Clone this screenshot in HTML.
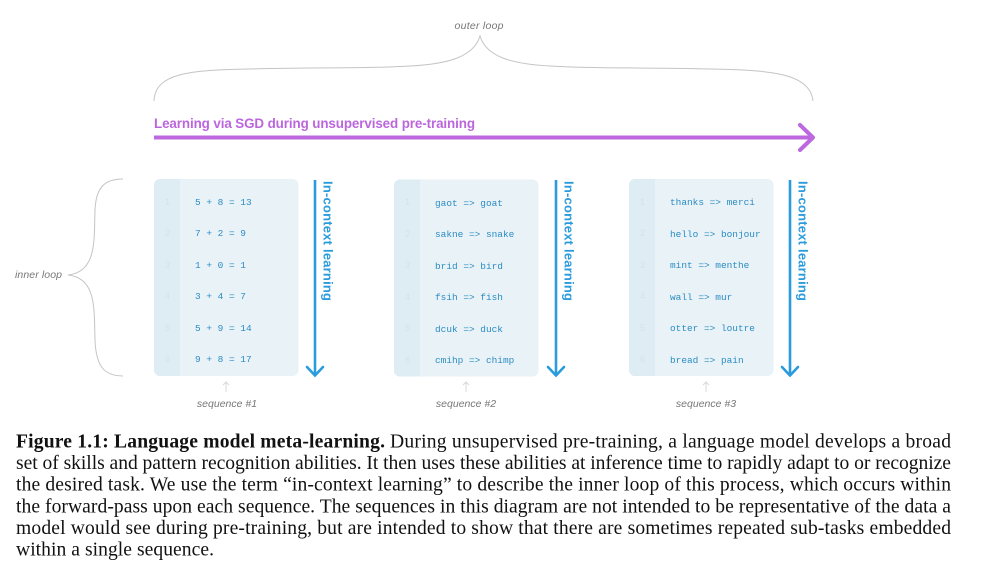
<!DOCTYPE html>
<html><head><meta charset="utf-8"><style>
html,body{margin:0;padding:0;background:#fff}
body{width:982px;height:574px;position:relative;overflow:hidden}
svg{position:absolute;left:0;top:0}
text{font-family:"Liberation Sans",sans-serif}
.m text{font-family:"Liberation Mono",monospace;font-size:9.45px;fill:#2b8cc4}
.n text{font-size:9px;fill:#d5e2e9}
text.i{font-style:italic;font-size:10.5px;fill:#777}
text.v{font-weight:bold;font-size:13px;fill:#2a9bdc}
text.c{font-family:"Liberation Serif",serif;font-size:19.6px;fill:#111}
</style></head><body>
<svg width="982" height="574" viewBox="0 0 982 574">
<text class="i" x="479" y="29" text-anchor="middle" textLength="49">outer loop</text>
<path d="M154 101C155 73 190 70 250 69C330 67 360 69 410 66C450 64 474 56 480 36C486 56 510 64 550 66C600 69 630 67 710 69C770 70 810 73 813 101" fill="none" stroke="#c4c4c4" stroke-width="1"/>
<text x="154" y="128" font-weight="bold" font-size="13.4" fill="#bb66dd" textLength="321">Learning via SGD during unsupervised pre-training</text>
<path d="M154 137.500H813" stroke="#bd68de" stroke-width="4" fill="none"/>
<path d="M800 125L813 137.500L800 150" stroke="#bd68de" stroke-width="4" fill="none" stroke-linecap="round" stroke-linejoin="round"/>
<text class="i" x="15" y="278" textLength="47">inner loop</text>
<path d="M123 179C104 179 96 188 95 210C94 240 97 272 68 275C97 278 94 310 95 340C96 366 104 376 123 376" fill="none" stroke="#c4c4c4" stroke-width="1"/>

<g id="p1">
<rect x="154" y="179" width="144.500" height="197" rx="6" fill="#e9f2f6"/>
<path d="M180 179H160a6 6 0 0 0-6 6V370a6 6 0 0 0 6 6H180Z" fill="#deecf3"/>
<g class="n"><text x="165" y="205">1</text><text x="165" y="236">2</text><text x="165" y="268">3</text><text x="165" y="299">4</text><text x="165" y="331">5</text><text x="165" y="362">6</text></g>
<g class="m"><text x="195" y="205">5 + 8 = 13</text><text x="195" y="236">7 + 2 = 9</text><text x="195" y="268">1 + 0 = 1</text><text x="195" y="299">3 + 4 = 7</text><text x="195" y="331">5 + 9 = 14</text><text x="195" y="362">9 + 8 = 17</text></g>
<path d="M315 180V375" stroke="#2a9bdc" stroke-width="2.600"/>
<path d="M307 367L315 375.500L323 367" stroke="#2a9bdc" stroke-width="2.600" fill="none" stroke-linecap="round"/>
<text class="v" transform="translate(323.500 181) rotate(90)" textLength="120">In-context learning</text>
<path d="M226 392V382M223 385L226 382L229 385" stroke="#d8d8d8" fill="none"/>
<text class="i" x="227" y="407" text-anchor="middle">sequence #1</text>
</g>

<g id="p2">
<rect x="394" y="179.500" width="144.500" height="197" rx="6" fill="#e9f2f6"/>
<path d="M420 179.500H400a6 6 0 0 0-6 6V370.500a6 6 0 0 0 6 6H420Z" fill="#deecf3"/>
<g class="n"><text x="405" y="205">1</text><text x="405" y="237">2</text><text x="405" y="268">3</text><text x="405" y="300">4</text><text x="405" y="331">5</text><text x="405" y="363">6</text></g>
<g class="m"><text x="435" y="206">gaot =&gt; goat</text><text x="435" y="237">sakne =&gt; snake</text><text x="435" y="269">brid =&gt; bird</text><text x="435" y="300">fsih =&gt; fish</text><text x="435" y="332">dcuk =&gt; duck</text><text x="435" y="363">cmihp =&gt; chimp</text></g>
<path d="M556 180V375" stroke="#2a9bdc" stroke-width="2.600"/>
<path d="M548 367L556 375.500L564 367" stroke="#2a9bdc" stroke-width="2.600" fill="none" stroke-linecap="round"/>
<text class="v" transform="translate(564.500 181) rotate(90)" textLength="120">In-context learning</text>
<path d="M466 392V382M463 385L466 382L469 385" stroke="#d8d8d8" fill="none"/>
<text class="i" x="466" y="407" text-anchor="middle">sequence #2</text>
</g>

<g id="p3">
<rect x="629" y="179" width="144.500" height="197" rx="6" fill="#e9f2f6"/>
<path d="M655 179H635a6 6 0 0 0-6 6V370a6 6 0 0 0 6 6H655Z" fill="#deecf3"/>
<g class="n"><text x="640" y="205">1</text><text x="640" y="236">2</text><text x="640" y="268">3</text><text x="640" y="299">4</text><text x="640" y="331">5</text><text x="640" y="362">6</text></g>
<g class="m"><text x="670" y="205">thanks =&gt; merci</text><text x="670" y="237">hello =&gt; bonjour</text><text x="670" y="268">mint =&gt; menthe</text><text x="670" y="300">wall =&gt; mur</text><text x="670" y="331">otter =&gt; loutre</text><text x="670" y="363">bread =&gt; pain</text></g>
<path d="M790 180V375" stroke="#2a9bdc" stroke-width="2.600"/>
<path d="M782 367L790 375.500L798 367" stroke="#2a9bdc" stroke-width="2.600" fill="none" stroke-linecap="round"/>
<text class="v" transform="translate(798.500 181) rotate(90)" textLength="120">In-context learning</text>
<path d="M706 392V382M703 385L706 382L709 385" stroke="#d8d8d8" fill="none"/>
<text class="i" x="706" y="407" text-anchor="middle">sequence #3</text>
</g>

<text class="c" x="16" y="447.500" font-weight="bold" textLength="369">Figure 1.1: Language model meta-learning.</text>
<text class="c" x="390" y="447.500" textLength="561">During unsupervised pre-training, a language model develops a broad</text>
<text class="c" x="16" y="469" textLength="935">set of skills and pattern recognition abilities. It then uses these abilities at inference time to rapidly adapt to or recognize</text>
<text class="c" x="16" y="490.500" textLength="935">the desired task. We use the term “in-context learning” to describe the inner loop of this process, which occurs within</text>
<text class="c" x="16" y="512.500" textLength="935">the forward-pass upon each sequence. The sequences in this diagram are not intended to be representative of the data a</text>
<text class="c" x="16" y="534" textLength="935">model would see during pre-training, but are intended to show that there are sometimes repeated sub-tasks embedded</text>
<text class="c" x="16" y="555.500" textLength="198">within a single sequence.</text>
</svg>
</body></html>
